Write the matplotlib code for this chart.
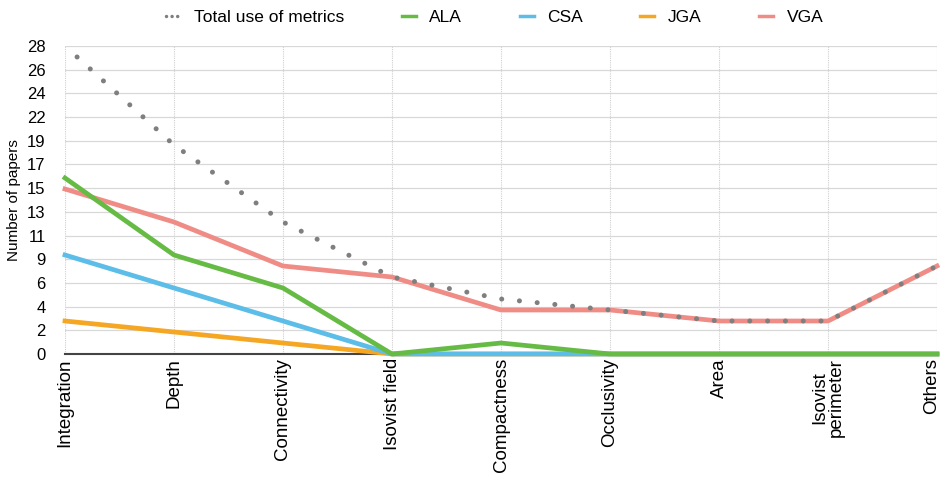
import numpy as np
import matplotlib.pyplot as plt
from matplotlib.transforms import ScaledTranslation

plt.rcParams['font.family'] = ['Liberation Sans', 'DejaVu Sans']

categories = ["Integration", "Depth", "Connectivity", "Isovist field", "Compactness",
              "Occlusivity", "Area", "Isovist\nperimeter", "Others"]
total = [28, 19, 12, 7, 5, 4, 3, 3, 8]
ala = [16, 9, 6, 0, 1, 0, 0, 0, 0]
csa = [9, 6, 3, 0, 0, 0, 0, 0, 0]
jga = [3, 2, 1, 0, 0, 0, 0, 0, 0]
vga = [15, 12, 8, 7, 4, 4, 3, 3, 8]

ymax = 28
yticks = np.linspace(0, ymax, 14)
ytick_labels = [f"{round(v):d}" for v in yticks]

fig = plt.figure(figsize=(9.43, 4.79), dpi=100)
ax = fig.add_axes([65 / 943, 1 - 354 / 479, 872 / 943, 308 / 479])

x = np.arange(len(categories))
lw = 3.4
ax.plot(x, jga, color="#f5a623", lw=lw, label="JGA", clip_on=False, zorder=3)
ax.plot(x, csa, color="#5bbde8", lw=lw, label="CSA", clip_on=False, zorder=4)
ax.plot(x, vga, color="#f08c86", lw=lw, label="VGA", clip_on=False, zorder=4)
ax.plot(x, ala, color="#66bb44", lw=lw, label="ALA", clip_on=False, zorder=5)
ax.plot(x, total, color="#7f7f7f", lw=3.6, linestyle=(0.3, (0.01, 3.55)),
        dash_capstyle="round", label="Total use of metrics", clip_on=False, zorder=6)

ax.set_xlim(0, len(categories) - 1)
ax.set_ylim(0, ymax)
ax.set_yticks(yticks)
ax.set_yticklabels(ytick_labels, fontsize=12)
ax.set_xticks(x)
ax.set_xticklabels(categories, rotation=90, fontsize=13.5, va="top", ha="center",
                   multialignment="center", linespacing=0.95)
ax.tick_params(axis="both", length=0)
ax.tick_params(axis="y", pad=14)
ax.tick_params(axis="x", pad=3)
ax.set_ylabel("Number of papers", fontsize=11, labelpad=4)

# keep the last label inside the canvas
last = ax.get_xticklabels()[-1]
last.set_transform(last.get_transform() + ScaledTranslation(-5 / 100, 0, fig.dpi_scale_trans))

ax.grid(axis="y", color="#d8d8d8", lw=0.9)
ax.grid(axis="x", color="#cfcfcf", lw=0.8, linestyle=(0, (1, 1)))
ax.set_axisbelow(True)
for s in ["top", "right", "left"]:
    ax.spines[s].set_visible(False)
ax.spines["bottom"].set_color("#444444")
ax.spines["bottom"].set_linewidth(1.5)

handles, labels = ax.get_legend_handles_labels()
order = ["Total use of metrics", "ALA", "CSA", "JGA", "VGA"]
hmap = dict(zip(labels, handles))
leg = fig.legend([hmap[k] for k in order], order, loc="center", bbox_to_anchor=(0.525, 0.963),
                 ncol=5, frameon=False, fontsize=12.5, handlelength=0.8, columnspacing=3.3,
                 handletextpad=0.8)
for h in leg.legend_handles:
    h.set_linewidth(2.5)
leg.legend_handles[0].set_linestyle((0, (0.01, 1.6)))

fig.savefig("out.png", dpi=100)
